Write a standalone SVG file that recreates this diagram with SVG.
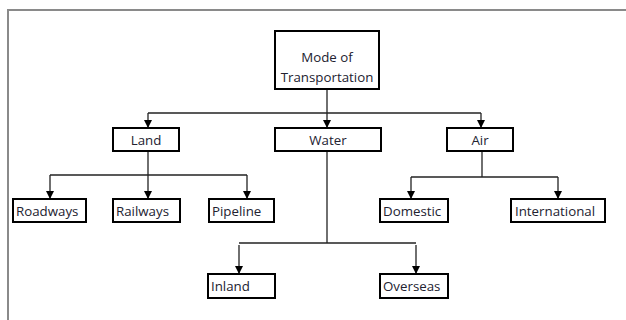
<svg xmlns="http://www.w3.org/2000/svg" width="626" height="320" viewBox="0 0 626 320">
<style>
.box{fill:#fff;stroke:#000;stroke-width:2}
.t{font-family:"Open Sans","Liberation Sans",sans-serif;font-size:13.3px;fill:#222230}
.c{text-anchor:middle}
.ln{fill:none;stroke:#222;stroke-width:1.3}
</style>
<defs>
<path id="ah" d="M-4,-8 L4,-8 L0,0 Z" fill="#000"/>
</defs>
<rect x="0" y="0" width="626" height="320" fill="#fff"/>
<path d="M8,320 V10 H626" fill="none" stroke="#8a8a8a" stroke-width="2"/>
<g id="connectors">
<path class="ln" d="M327,89 V113"/>
<path class="ln" d="M148,113 H481"/>
<path class="ln" d="M148,113 V127"/>
<path class="ln" d="M327,113 V127"/>
<path class="ln" d="M481,113 V127"/>
<path class="ln" d="M148,151 V198"/>
<path class="ln" d="M50,175 H247"/>
<path class="ln" d="M50,175 V198"/>
<path class="ln" d="M247,175 V198"/>
<path class="ln" d="M482,151 V177"/>
<path class="ln" d="M411,177 H558"/>
<path class="ln" d="M411,177 V198"/>
<path class="ln" d="M558,177 V198"/>
<path class="ln" d="M327,151 V243"/>
<path class="ln" d="M239,243 H416"/>
<path class="ln" d="M239,245 V273"/>
<path class="ln" d="M416,245 V273"/>
<use href="#ah" x="148" y="128"/>
<use href="#ah" x="327" y="128"/>
<use href="#ah" x="481" y="128"/>
<use href="#ah" x="50" y="199"/>
<use href="#ah" x="148" y="199"/>
<use href="#ah" x="247" y="199"/>
<use href="#ah" x="411" y="199"/>
<use href="#ah" x="558" y="199"/>
<use href="#ah" x="239" y="274"/>
<use href="#ah" x="416" y="274"/>
</g>
<g id="root"><rect class="box" x="275" y="31" width="104" height="58"/>
<text class="t c" x="327" y="62">Mode of</text><text class="t c" x="327" y="82">Transportation</text></g>
<g id="land"><rect class="box" x="113" y="128" width="66" height="23"/><text class="t c" x="146" y="144.5">Land</text></g>
<g id="water"><rect class="box" x="275" y="128" width="106" height="23"/><text class="t c" x="328" y="144.5">Water</text></g>
<g id="air"><rect class="box" x="447" y="128" width="66" height="23"/><text class="t c" x="480" y="144.5">Air</text></g>
<g id="roadways"><rect class="box" x="13" y="199" width="73" height="23"/><text class="t" x="16" y="215.5">Roadways</text></g>
<g id="railways"><rect class="box" x="113" y="199" width="67" height="23"/><text class="t" x="116" y="215.5">Railways</text></g>
<g id="pipeline"><rect class="box" x="209" y="199" width="65" height="23"/><text class="t" x="212" y="215.5">Pipeline</text></g>
<g id="domestic"><rect class="box" x="380" y="199" width="68" height="23"/><text class="t" x="383" y="215.5">Domestic</text></g>
<g id="international"><rect class="box" x="511" y="199" width="94" height="23"/><text class="t" x="515" y="215.5">International</text></g>
<g id="inland"><rect class="box" x="208" y="274" width="67" height="24"/><text class="t" x="211" y="290.5">Inland</text></g>
<g id="overseas"><rect class="box" x="380" y="274" width="68" height="24"/><text class="t" x="383" y="290.5">Overseas</text></g>
</svg>
